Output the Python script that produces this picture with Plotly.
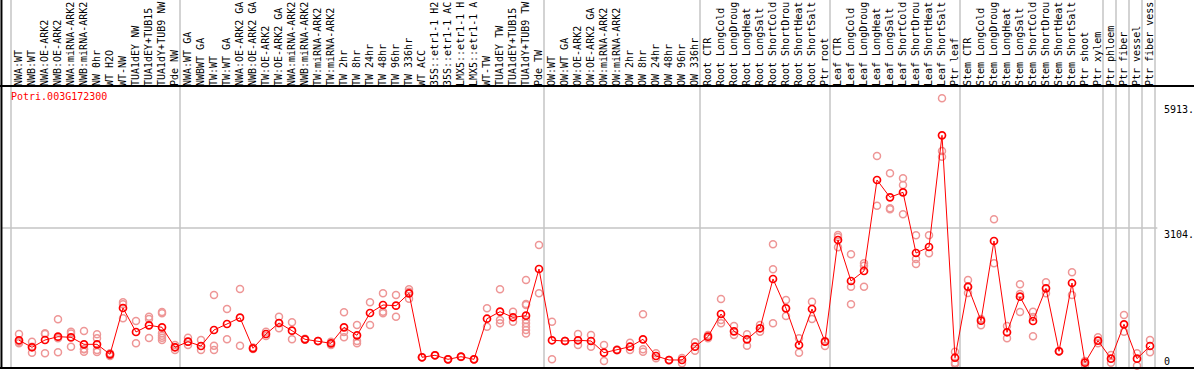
import plotly.graph_objects as go

gene = "Potri.003G172300"

# labels as printed in the reference (the original truncates them to 14 characters)
labels = [
    "NWA:WT", "NWB:WT", "NWA:OE-ARK2", "NWB:OE-ARK2", "NWA:miRNA-ARK2", "NWB:miRNA-ARK2",
    "NW 0hr", "WT H2O", "WT-NW", "TUA1dEY NW", "TUA1dEY+TUB15 NW", "TUA1dY+TUB9 NW", "Pde NW",
    "NWA:WT GA", "NWBWT GA", "TW:WT", "TW:WT GA", "NWA:OE-ARK2 GA", "NWB:OE-ARK2 GA",
    "TW:OE-ARK2", "TW:OE-ARK2 GA", "NWA:miRNA-ARK2", "NWB:miRNA-ARK2", "TW:miRNA-ARK2",
    "TW:miRNA-ARK2", "TW 2hr", "TW 8hr", "TW 24hr", "TW 48hr", "TW 96hr", "TW 336hr", "WT ACC",
    "35S::etr1-1 H2O", "35S::etr1-1 ACC", "LMX5::etr1-1 H2O", "LMX5::etr1-1 ACC", "WT-TW",
    "TUA1dEY TW", "TUA1dEY+TUB15 TW", "TUA1dY+TUB9 TW", "Pde TW",
    "OW:WT", "OW:WT GA", "OW:OE-ARK2", "OW:OE-ARK2 GA", "OW:miRNA-ARK2", "OW:miRNA-ARK2",
    "OW 2hr", "OW 8hr", "OW 24hr", "OW 48hr", "OW 96hr", "OW 336hr",
    "Root CTR", "Root LongCold", "Root LongDrought", "Root LongHeat", "Root LongSalt",
    "Root ShortCold", "Root ShortDrought", "Root ShortHeat", "Root ShortSalt", "Ptr root",
    "Leaf CTR", "Leaf LongCold", "Leaf LongDrought", "Leaf LongHeat", "Leaf LongSalt",
    "Leaf ShortCold", "Leaf ShortDrought", "Leaf ShortHeat", "Leaf ShortSalt", "Ptr leaf",
    "Stem CTR", "Stem LongCold", "Stem LongDrought", "Stem LongHeat", "Stem LongSalt",
    "Stem ShortCold", "Stem ShortDrought", "Stem ShortHeat", "Stem ShortSalt", "Ptr shoot",
    "Ptr xylem", "Ptr phloem", "Ptr fiber", "Ptr vessel", "Ptr fiber vessel",
]
label_chars = 14

means = [
    575, 417, 581, 656, 642, 484, 484, 259, 1302, 762, 912, 867, 417,
    543, 446, 807, 942, 1084, 394, 716, 964, 791, 597, 559, 507, 867, 687, 1190, 1370,
    1354, 1633, 192, 237, 146, 205, 146, 1061, 1219, 1093, 1129, 2181,
    575, 559, 575, 559, 295, 356, 430, 597, 221, 131, 131, 430,
    656, 1167, 777, 597, 845, 1956, 1295, 469, 1280, 543,
    2834, 1911, 2136, 4186, 3796, 3909, 2541, 2677, 5193, 182,
    1782, 1016, 2812, 755, 1557, 1009, 1746, 327, 1865, 70, 566,
    160, 935, 160, 446,
]

replicates = [
    [716, 507, 543], [543, 295, 430], [716, 282, 735], [1048, 304, 620], [768, 430, 728],
    [784, 372, 318, 380], [710, 620, 356, 311], [282, 221, 243], [1431, 1386, 1070],
    [1009, 507], [1106, 1054, 626], [1212, 1183, 732, 678, 633, 581], [469, 356, 420],
    [633, 469, 540], [581, 356], [1595, 453, 356], [1280, 597], [1730, 453], [380, 410],
    [768, 671], [1106, 845, 960], [980, 597], [610, 585], [560, 555], [543, 469],
    [1205, 642, 760], [919, 559, 507], [1431, 919], [1633, 1219, 1183], [1595, 1106],
    [1724, 1669, 1510], [192, 190], [237, 235], [146, 150], [205, 200], [146, 150],
    [1295, 881], [1724, 1032, 958], [1219, 994],
    [1933, 1392, 1370, 1032, 958, 881, 806, 730], [2722, 1633],
    [994, 146], [559, 560], [716, 469], [694, 430], [469, 108], [350, 365], [520, 356],
    [1160, 372, 318], [282, 169], [131, 120], [56, 176], [529, 340],
    [694, 620], [1505, 1032, 958], [897, 694], [710, 453], [919, 768],
    [2737, 2174, 958], [1482, 1122], [620, 295], [1444, 1054], [446, 560],
    [2947, 2902, 2670], [2512, 1782, 1386], [2309, 2255, 1782], [4727, 3607],
    [4337, 3548, 3526], [4224, 4073, 3413], [2940, 2406, 2294], [2940, 2535],
    [6027, 4839, 4711], [318, 70, 40],
    [1933, 1769, 1640], [912, 1054], [3301, 2309], [897, 620], [1836, 1212, 1620],
    [1219, 665, 1100], [1881, 1633], [320, 335], [2107, 1595], [18, 108], [642, 507],
    [243, 70], [1145, 768], [282, 0], [581, 304],
]

group_starts = [0, 13, 41, 53, 63, 73, 84, 85, 86, 87, 88]
ref_value = 3104
tick_texts = ["5913.", "3104.", "0"]
tick_values = [5913, 3104, 90]

W, H = 1194, 370
ML, MR, MT, MB = 1, 39, 86, 2
PX_PER_COL = 13.0
x_min = (ML - 19) / PX_PER_COL
x_max = x_min + (W - ML - MR) / PX_PER_COL
y_min, y_max = -49.6, 6304

RED = "#ff0000"
PINK = "rgb(238,150,150)"
GRAY = "#c4c4c4"
MONO = "DejaVu Sans Mono"

xs = list(range(len(labels)))
shown_labels = [s[:label_chars] for s in labels]
rx, ry = [], []
for i, reps in enumerate(replicates):
    for v in reps:
        rx.append(i)
        ry.append(v)

fig = go.Figure()
fig.add_trace(go.Scatter(
    x=rx, y=ry, mode="markers",
    marker=dict(symbol="circle-open", size=7, color=PINK, line=dict(width=1.5, color=PINK)),
    hoverinfo="skip", showlegend=False, cliponaxis=False,
))
fig.add_trace(go.Scatter(
    x=xs, y=means, mode="lines+markers",
    line=dict(color=RED, width=1),
    marker=dict(symbol="circle-open", size=7, color=RED, line=dict(width=1.7, color=RED)),
    showlegend=False, cliponaxis=False,
))

shapes = []
xspan = x_max - x_min
for k in group_starts:
    xb = k - 8 / 13
    px = (xb - x_min) / xspan
    shapes.append(dict(type="line", xref="paper", yref="paper", x0=px, x1=px, y0=0, y1=1.4,
                       line=dict(color=GRAY, width=1.5), layer="below"))
shapes.append(dict(type="line", xref="paper", yref="y", x0=0, x1=1.002, y0=ref_value, y1=ref_value,
                   line=dict(color=GRAY, width=1.5), layer="below"))
# black frame lines
shapes.append(dict(type="line", xref="paper", yref="paper", x0=-0.01, x1=1.1, y0=1, y1=1,
                   line=dict(color="black", width=2)))
shapes.append(dict(type="line", xref="paper", yref="paper", x0=-0.01, x1=1.1, y0=0, y1=0,
                   line=dict(color="black", width=2)))
shapes.append(dict(type="line", xref="paper", yref="paper", x0=0.0004, x1=0.0004, y0=0, y1=1.4,
                   line=dict(color="black", width=2)))

annotations = [dict(text=gene, xref="paper", yref="paper", x=(9.3 - ML) / (W - ML - MR),
                    y=1 - (96.7 - MT) / (H - MT - MB), xanchor="left", yanchor="middle",
                    showarrow=False, font=dict(family=MONO, size=10, color=RED))]
for t, v in zip(tick_texts, tick_values):
    annotations.append(dict(text=t, xref="paper", yref="y", x=(1162.5 - ML) / (W - ML - MR),
                            y=v, xanchor="left", yanchor="middle" if t == "0" else "top",
                            showarrow=False, borderpad=0,
                            font=dict(family=MONO, size=10, color="black")))

fig.update_layout(
    width=W, height=H,
    margin=dict(l=ML, r=MR, t=MT, b=MB, pad=0),
    paper_bgcolor="white", plot_bgcolor="white",
    shapes=shapes, annotations=annotations,
    xaxis=dict(range=[x_min, x_max], side="top", tickmode="array", tickvals=xs,
               ticktext=shown_labels, tickangle=-90, ticks="", showgrid=False, zeroline=False,
               showline=False, tickfont=dict(family=MONO, size=10, color="black"),
               ticklabelstandoff=-1,
               automargin=False, fixedrange=True),
    yaxis=dict(range=[y_min, y_max], showgrid=False, zeroline=False, showline=False,
               showticklabels=False, ticks="", automargin=False, fixedrange=True),
    hovermode=False,
)

fig.write_html("out.html", config={"displayModeBar": False},
               post_script="document.body.style.margin='0px';document.body.style.overflow='hidden';")
